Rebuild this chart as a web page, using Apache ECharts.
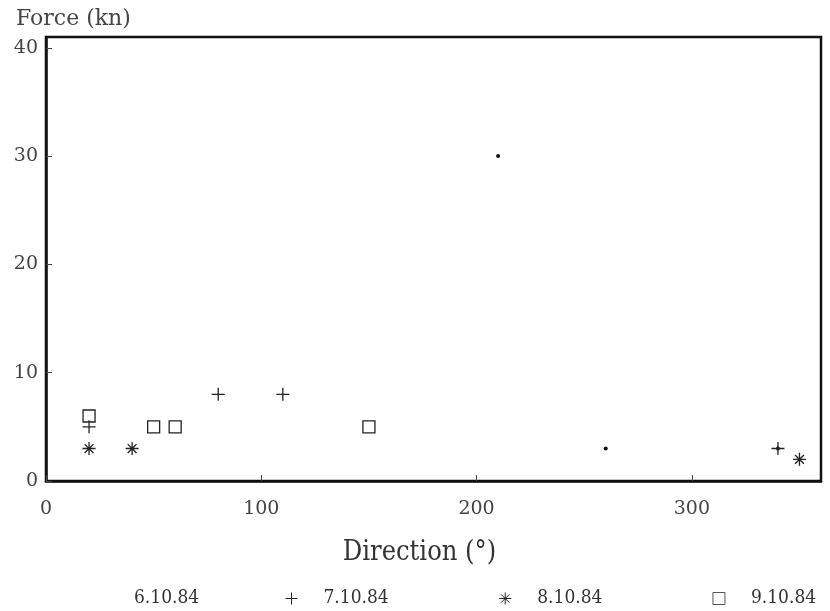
<!DOCTYPE html>
<html>
<head>
<meta charset="utf-8">
<script src="https://cdn.jsdelivr.net/npm/echarts@6/dist/echarts.min.js"></script>
<style>
html,body{margin:0;padding:0;background:#fff;}
#c{width:830px;height:611px;}
</style>
</head>
<body>
<div id="c"></div>
<script>
// Data (Direction in degrees, Force in kN)
var seriesNames = ['6.10.84', '7.10.84', '8.10.84', '9.10.84'];
var s6 = [[210, 30], [260, 3], [340, 3]];
var s7 = [[20, 5], [80, 8], [110, 8], [340, 3]];
var s8 = [[20, 3], [40, 3], [350, 2]];
var s9 = [[20, 6], [50, 5], [60, 5], [150, 5]];
var xTicks = [0, 100, 200, 300];
var yTicks = [0, 10, 20, 30, 40];

var PLUS = 'path://M5,0L5,10M0,5L10,5';
var STAR = 'path://M5,0L5,10M0,5L10,5M1.6,1.6L8.4,8.4M8.4,1.6L1.6,8.4';
var SQUARE = 'path://M0,0L10,0L10,10L0,10Z';

var chart = echarts.init(document.getElementById('c'), null, {renderer: 'canvas'});
var serif = 'DejaVu Serif';
var legendText = {fontFamily: 'DejaVu Serif Condensed', fontSize: 19, color: '#333'};
var option = {
  backgroundColor: '#fff',
  animation: false,
  grid: {left: 46, right: 9, top: 37, bottom: 130, show: true, borderColor: '#111', borderWidth: 2.5, backgroundColor: 'transparent'},
  xAxis: {
    type: 'value', min: 0, max: 360, interval: 100,
    name: 'Direction (°)', nameLocation: 'middle', nameGap: 58,
    nameTextStyle: {fontFamily: 'DejaVu Serif Condensed', fontSize: 27, color: '#333', padding: [0, 28, 0, 0]},
    axisLine: {show: true, onZero: false, lineStyle: {color: '#111', width: 2.5}},
    axisTick: {show: true, inside: true, length: 6, lineStyle: {color: '#444', width: 1}},
    axisLabel: {showMaxLabel: false, margin: 19, fontFamily: serif, fontSize: 19, color: '#444',
      formatter: function (v) { return xTicks.indexOf(v) >= 0 ? String(v) : ''; }},
    splitLine: {show: false}
  },
  yAxis: {
    type: 'value', min: 0, max: 41, interval: 10,
    name: 'Force (kn)', nameLocation: 'end', nameGap: 7,
    nameTextStyle: {fontFamily: serif, fontSize: 22, color: '#444', align: 'left', padding: [0, 0, 0, -30]},
    axisLine: {show: true, onZero: false, lineStyle: {color: '#111', width: 2.5}},
    axisTick: {show: true, inside: true, length: 6, lineStyle: {color: '#444', width: 1}},
    axisLabel: {showMaxLabel: false, margin: 8, fontFamily: serif, fontSize: 19, color: '#444',
      formatter: function (v) { return yTicks.indexOf(v) >= 0 ? String(v) : ''; }},
    splitLine: {show: false}
  },
  legend: [
    {
      top: 584, left: 95, itemWidth: 54, itemHeight: 4,
      textStyle: legendText,
      data: [{name: seriesNames[0], icon: 'circle', itemStyle: {opacity: 0}}]
    },
    {
      top: 584, left: 280, itemWidth: 54, itemHeight: 12, itemGap: 110,
      textStyle: legendText,
      data: [
        {name: seriesNames[1], icon: PLUS, itemStyle: {borderWidth: 1}},
        {name: seriesNames[2], icon: STAR, itemStyle: {borderWidth: 1}},
        {name: seriesNames[3], icon: SQUARE, itemStyle: {color: 'transparent', borderColor: '#555', borderWidth: 1}}
      ]
    }
  ],
  series: [
    {name: seriesNames[0], type: 'scatter', data: s6, symbol: 'circle', symbolSize: 4,
      itemStyle: {color: '#111', opacity: 1}},
    {name: seriesNames[1], type: 'scatter', data: s7, symbol: PLUS, symbolSize: 13,
      itemStyle: {color: 'transparent', borderColor: '#222', borderWidth: 1.3, opacity: 1}},
    {name: seriesNames[2], type: 'scatter', data: s8, symbol: STAR, symbolSize: 13,
      itemStyle: {color: 'transparent', borderColor: '#222', borderWidth: 1.3, opacity: 1}},
    {name: seriesNames[3], type: 'scatter', data: s9, symbol: SQUARE, symbolSize: 12,
      itemStyle: {color: 'transparent', borderColor: '#222', borderWidth: 1.3, opacity: 1}}
  ]
};
chart.setOption(option);
</script>
</body>
</html>
